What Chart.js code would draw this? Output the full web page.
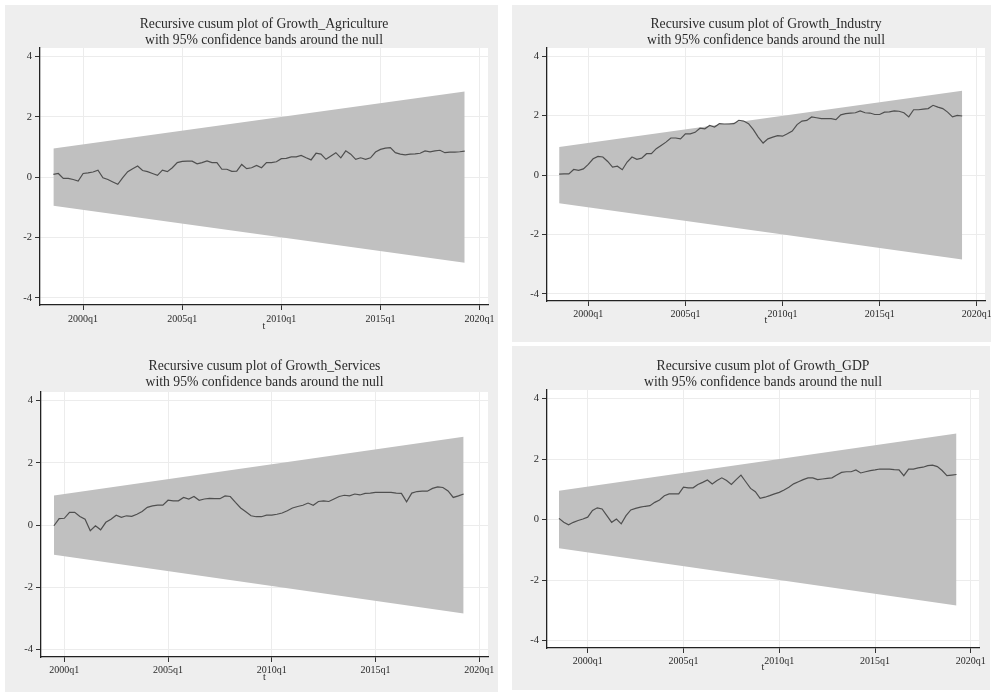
<!DOCTYPE html>
<html>
<head>
<meta charset="utf-8">
<script src="https://cdn.jsdelivr.net/npm/chart.js@4.4.1/dist/chart.umd.min.js"></script>
<style>
body { margin: 0; background: #fff; width: 991px; height: 694px; position: relative; overflow: hidden; }
.panel { position: absolute; background: #eeeeee; }
canvas { display: block; }
</style>
</head>
<body>
<div class="panel" style="left:5px;top:5px;width:493px;height:339px"><canvas id="agri" width="493" height="339"></canvas></div>
<div class="panel" style="left:512px;top:5px;width:479px;height:337px"><canvas id="ind" width="479" height="337"></canvas></div>
<div class="panel" style="left:5px;top:344px;width:493px;height:348px"><canvas id="serv" width="493" height="348"></canvas></div>
<div class="panel" style="left:512px;top:346px;width:478px;height:344px"><canvas id="gdp" width="478" height="344"></canvas></div>
<script>
// Stata quarterly dates: 2000q1 = 160
var tickValues = [160, 180, 200, 220, 240];
var tickLabels = ['2000q1', '2005q1', '2010q1', '2015q1', '2020q1'];
var yTicks = [-4, -2, 0, 2, 4];

// cusum 95% band: value at first and last observation
var bandStart = 0.95;
var bandEnd = 2.84;

var agriStart = 154; // 1998q3
var agriculture = [0.09,0.12,-0.04,-0.04,-0.08,-0.13,0.12,0.14,0.17,0.23,
  -0.02,-0.08,-0.16,-0.24,-0.02,0.18,0.28,0.37,0.22,0.18,
  0.12,0.06,0.23,0.18,0.31,0.48,0.52,0.53,0.53,0.44,
  0.48,0.54,0.48,0.48,0.26,0.26,0.19,0.20,0.42,0.28,
  0.31,0.39,0.31,0.48,0.48,0.51,0.61,0.62,0.67,0.67,
  0.72,0.64,0.57,0.79,0.76,0.59,0.70,0.81,0.64,0.87,
  0.76,0.59,0.64,0.59,0.64,0.83,0.92,0.96,0.98,0.81,
  0.76,0.74,0.76,0.77,0.79,0.87,0.84,0.87,0.89,0.81,
  0.83,0.83,0.84,0.86];

var indStart = 154;
var industry = [0.03,0.04,0.04,0.19,0.16,0.21,0.36,0.55,0.63,0.61,
  0.46,0.27,0.30,0.18,0.44,0.61,0.53,0.57,0.72,0.72,
  0.89,1.00,1.11,1.25,1.25,1.22,1.39,1.39,1.44,1.58,
  1.56,1.67,1.62,1.73,1.72,1.72,1.73,1.84,1.82,1.73,
  1.53,1.28,1.08,1.22,1.28,1.33,1.31,1.39,1.48,1.70,
  1.82,1.84,1.96,1.93,1.90,1.90,1.90,1.87,2.03,2.07,
  2.09,2.10,2.16,2.10,2.09,2.04,2.04,2.12,2.13,2.16,
  2.15,2.10,1.96,2.20,2.20,2.22,2.24,2.35,2.29,2.24,
  2.12,1.96,2.01,1.99];

var servStart = 158; // 1999q3
var services = [-0.02,0.21,0.22,0.41,0.41,0.28,0.19,-0.18,-0.02,-0.15,
  0.09,0.19,0.32,0.25,0.30,0.28,0.35,0.44,0.57,0.62,
  0.64,0.64,0.80,0.78,0.78,0.89,0.84,0.92,0.80,0.84,
  0.86,0.85,0.85,0.94,0.92,0.73,0.55,0.43,0.30,0.27,
  0.27,0.32,0.32,0.35,0.39,0.46,0.55,0.60,0.64,0.71,
  0.64,0.76,0.78,0.76,0.84,0.92,0.96,0.94,1.00,0.97,
  1.02,1.03,1.05,1.05,1.05,1.05,1.03,1.02,0.75,1.03,
  1.08,1.09,1.09,1.18,1.23,1.21,1.10,0.89,0.94,1.00];

var gdpStart = 154;
var gdp = [0.04,-0.09,-0.17,-0.09,-0.03,0.02,0.08,0.30,0.39,0.35,
  0.13,-0.09,0.02,-0.14,0.13,0.32,0.37,0.41,0.44,0.46,
  0.57,0.65,0.79,0.85,0.85,0.85,1.07,1.05,1.05,1.16,
  1.23,1.31,1.18,1.29,1.38,1.29,1.16,1.32,1.47,1.25,
  1.03,0.92,0.70,0.74,0.79,0.85,0.90,0.98,1.07,1.18,
  1.25,1.32,1.38,1.38,1.32,1.34,1.36,1.38,1.47,1.56,
  1.58,1.58,1.64,1.54,1.58,1.62,1.64,1.67,1.67,1.67,
  1.65,1.64,1.45,1.67,1.67,1.71,1.73,1.78,1.80,1.75,
  1.62,1.45,1.47,1.49];

var font = 'Liberation Serif, Times New Roman, serif';

const plotBg = {
  id: 'plotBg',
  beforeDraw(chart) {
    const a = chart.chartArea, ctx = chart.ctx;
    ctx.save();
    ctx.fillStyle = '#ffffff';
    ctx.fillRect(a.left, a.top, a.right - a.left, a.bottom - a.top);
    ctx.restore();
  }
};

function cusumChart(id, name, start, values, g) {
  var pts = values.map(function (v, i) { return {x: start + i, y: v}; });
  var last = start + values.length - 1;
  var upper = [{x: start, y: bandStart}, {x: last, y: bandEnd}];
  var lower = [{x: start, y: -bandStart}, {x: last, y: -bandEnd}];

  return new Chart(document.getElementById(id), {
    type: 'line',
    data: {
      datasets: [
        {data: pts, borderColor: '#4f4f4f', borderWidth: 1.2, pointRadius: 0, tension: 0, fill: false},
        {data: lower, borderWidth: 0, pointRadius: 0, fill: false},
        {data: upper, borderWidth: 0, pointRadius: 0, fill: '-1', backgroundColor: '#c0c0c0'}
      ]
    },
    options: {
      responsive: false,
      animation: false,
      devicePixelRatio: 1,
      layout: {padding: {top: 0, left: 0, right: g.right, bottom: 0}},
      plugins: {
        legend: {display: false},
        tooltip: {enabled: false},
        filler: {drawTime: 'beforeDatasetsDraw'},
        title: {
          display: true,
          fullSize: false,
          text: ['Recursive cusum plot of ' + name, 'with 95% confidence bands around the null'],
          color: '#2a2a2a',
          font: {family: font, size: 13.7, weight: 'normal', lineHeight: 16 / 13.7},
          padding: {top: g.titleTop, bottom: g.titleBottom}
        }
      },
      scales: {
        x: {
          type: 'linear',
          min: g.xmin, max: 241.7,
          afterBuildTicks: function (s) { s.ticks = tickValues.map(function (v) { return {value: v}; }); },
          afterFit: function (s) { s.height = g.xh; s.paddingLeft = 0; s.paddingRight = 0; },
          ticks: {
            autoSkip: false, maxRotation: 0, padding: g.tickPad, color: '#2a2a2a',
            font: {family: font, size: 10},
            callback: function (v) { return tickLabels[tickValues.indexOf(v)]; }
          },
          grid: {color: '#ececec', lineWidth: 1, tickLength: 5, tickColor: '#333333'},
          border: {display: true, color: '#222222', width: 1.3},
          title: {display: true, text: 't', color: '#2a2a2a', font: {family: font, size: 10}, padding: {top: 0, bottom: g.tPad}}
        },
        y: {
          type: 'linear',
          min: -4.24, max: 4.28,
          afterBuildTicks: function (s) { s.ticks = yTicks.map(function (v) { return {value: v}; }); },
          afterFit: function (s) { s.width = g.yw; s.paddingTop = 0; s.paddingBottom = 0; },
          ticks: {padding: 3, color: '#2a2a2a', font: {family: font, size: 10.5}},
          grid: {color: '#ececec', lineWidth: 1, tickLength: 5, tickColor: '#333333'},
          border: {display: true, color: '#222222', width: 1.3}
        }
      }
    },
    plugins: [plotBg]
  });
}

cusumChart('agri', 'Growth_Agriculture', agriStart, agriculture,
  {right: 10, yw: 35, titleTop: 11, titleBottom: 0, xh: 39, tickPad: 3, tPad: 12, xmin: 151.3});
cusumChart('ind', 'Growth_Industry', indStart, industry,
  {right: 6, yw: 35, titleTop: 11, titleBottom: 0, xh: 41, tickPad: 2, tPad: 16, xmin: 151.5});
cusumChart('serv', 'Growth_Services', servStart, services,
  {right: 10, yw: 36, titleTop: 14, titleBottom: 2, xh: 35, tickPad: 2, tPad: 9, xmin: 155.5});
cusumChart('gdp', 'Growth_GDP', gdpStart, gdp,
  {right: 11, yw: 35, titleTop: 12, titleBottom: 0, xh: 42, tickPad: 2, tPad: 17, xmin: 151.5});
</script>
</body>
</html>
